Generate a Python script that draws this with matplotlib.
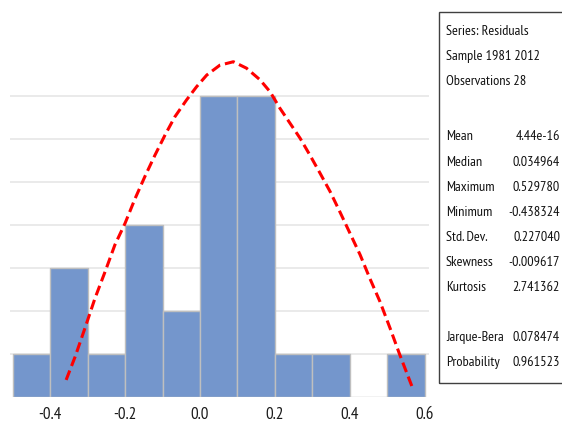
import matplotlib
matplotlib.use('Agg')
import matplotlib.pyplot as plt
from matplotlib import font_manager as fm
from matplotlib.textpath import TextPath
from matplotlib.patches import Rectangle

# histogram of residuals, bins of width 0.1
bin_left = [-0.5, -0.4, -0.3, -0.2, -0.1, 0.0, 0.1, 0.2, 0.3, 0.4, 0.5]
counts = [1, 3, 1, 4, 2, 7, 7, 1, 1, 0, 1]

# fitted curve
curve_x = [-0.357, -0.333, -0.307, -0.280, -0.253, -0.227, -0.200, -0.173,
           -0.147, -0.120, -0.093, -0.067, -0.036, -0.009, 0.018, 0.053,
           0.089, 0.124, 0.160, 0.187, 0.213, 0.240, 0.267, 0.293, 0.320,
           0.347, 0.373, 0.400, 0.427, 0.453, 0.480, 0.507, 0.533, 0.567]
curve_y = [0.39, 0.93, 1.59, 2.29, 2.91, 3.53, 4.03, 4.61,
           5.12, 5.62, 6.09, 6.51, 6.90, 7.21, 7.48, 7.71,
           7.79, 7.64, 7.37, 7.09, 6.71, 6.36, 6.01, 5.62, 5.20,
           4.77, 4.30, 3.80, 3.30, 2.75, 2.21, 1.59, 0.97, 0.20]

xticks = [-0.4, -0.2, 0.0, 0.2, 0.4, 0.6]

stat_header = ['Series: Residuals', 'Sample 1981 2012', 'Observations 28']
stat_names = ['Mean', 'Median', 'Maximum', 'Minimum', 'Std. Dev.', 'Skewness',
              'Kurtosis', '', 'Jarque-Bera', 'Probability']
stat_values = ['4.44e-16', '0.034964', '0.529780', '-0.438324', '0.227040',
               '-0.009617', '2.741362', '', '0.078474', '0.961523']


def ink(name, s):
    fp = fm.FontProperties(family=name, size=100)
    return TextPath((0, 0), s, prop=fp).get_extents()


# the reference text is a squeezed Calibri: pick the installed sans whose
# width / cap-height is closest to it (78 px wide, 10 px caps)
installed = set(f.name for f in fm.fontManager.ttflist)
candidates = ['PT Sans Narrow', 'Fira Sans Condensed', 'Fira Sans Extra Condensed',
              'Roboto Condensed', 'Open Sans Condensed', 'Archivo Narrow',
              'Asap Condensed', 'Encode Sans Condensed', 'Sofia Sans Condensed',
              'IBM Plex Sans Condensed', 'Liberation Sans Narrow', 'Pragati Narrow',
              'Ubuntu Condensed', 'Carlito']
best, best_err = 'DejaVu Sans', None
for cand in candidates:
    if cand not in installed:
        continue
    try:
        r = ink(cand, 'Series: Residuals').width / ink(cand, 'H').height
    except Exception:
        continue
    err = abs(r - 7.8)
    if best_err is None or err < best_err:
        best, best_err = cand, err
font = [best, 'DejaVu Sans']

PX = 100 / 72  # px per pt at dpi 100
cap_em = ink(best, 'H').height / 100
stat_size = 10 / (cap_em * PX)          # caps 10 px tall
tick_size = 1.2 * stat_size
digit_h = ink(best, '0').height / 100 * tick_size * PX

W, H = 562, 421
fig = plt.figure(figsize=(W / 100, H / 100), dpi=100)

# axes placed in pixel terms: baseline at y=396.7, left 10, right 429
ax = fig.add_axes([10 / W, (H - 396.7) / H, 419 / W, 387 / H])
ax.bar(bin_left, counts, width=0.1, align='edge', color='#7496CC',
       edgecolor='#BFBFBF', linewidth=1, zorder=2)
ax.plot(curve_x, curve_y, color='#FF0000', linewidth=2.2,
        linestyle=(0, (3.3, 1.6)), zorder=3)

ax.set_xlim(-0.5067, 0.6107)
ax.set_ylim(0, 9)
ax.set_yticks(range(1, 8))
ax.yaxis.grid(True, color='#E6E6E6', linewidth=1.2)
ax.set_axisbelow(True)
ax.tick_params(axis='y', left=False, labelleft=False)
ax.set_xticks(xticks)
ax.set_xticklabels(['%.1f' % t for t in xticks], family=font, fontsize=tick_size,
                   color='#1a1a1a', va='baseline')
# digit tops near y=407 px
ax.tick_params(axis='x', length=0, pad=(407 + digit_h - 396.7) / PX)
for s in ax.spines.values():
    s.set_visible(False)

# statistics box
fig.patches.append(Rectangle((439 / W, (H - 383) / H), 140 / W, 371.3 / H,
                             transform=fig.transFigure, fill=False,
                             edgecolor='#404040', linewidth=1))


def fy(py):
    return (H - py) / H


for i, line in enumerate(stat_header):
    fig.text(446 / W, fy(34.7 + 25 * i), line, family=font, fontsize=stat_size,
             va='baseline', ha='left', color='#111111')

for i, (name, val) in enumerate(zip(stat_names, stat_values)):
    y = fy(140.5 + 25.1 * i)
    fig.text(446 / W, y, name, family=font, fontsize=stat_size, va='baseline',
             ha='left', color='#111111')
    fig.text(560 / W, y, val, family=font, fontsize=stat_size, va='baseline',
             ha='right', color='#111111')

fig.savefig('out.png', dpi=100)
